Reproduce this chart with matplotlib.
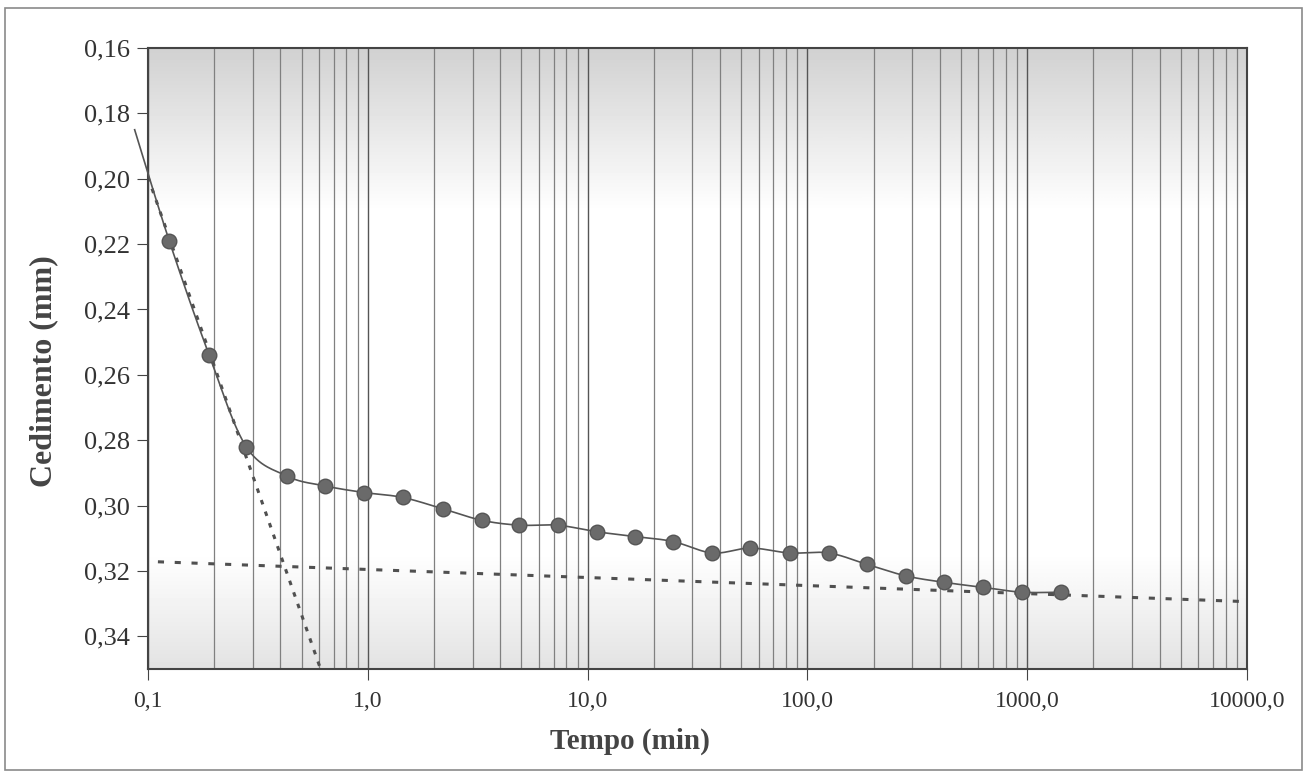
import numpy as np
import matplotlib.pyplot as plt
from matplotlib.ticker import FixedLocator, NullFormatter, FuncFormatter
from matplotlib.patches import Rectangle

# -------------------------------
# Data
# -------------------------------
tempo = [0.125, 0.19, 0.28, 0.43, 0.64, 0.96, 1.44, 2.2, 3.3, 4.9, 7.3, 11,
         16.5, 24.5, 37, 55, 83, 125, 187, 280, 420, 630, 945, 1420]
cedimento = [0.219, 0.254, 0.282, 0.291, 0.294, 0.296, 0.2975, 0.301, 0.3045,
             0.306, 0.306, 0.308, 0.3095, 0.311, 0.3145, 0.313, 0.3145, 0.3145,
             0.318, 0.3215, 0.3235, 0.325, 0.3265, 0.3265]

# start of the hand drawn curve (outside the axes)
curve_start = (0.087, 0.185)

# tangent lines (t, s) end points
tangent_1_t = [0.1, 0.61]
tangent_1_s = [0.1995, 0.35]
tangent_2_t = [0.111, 10000]
tangent_2_s = [0.3172, 0.3294]

x_ticks = [0.1, 1, 10, 100, 1000, 10000]
y_ticks = [0.16, 0.18, 0.20, 0.22, 0.24, 0.26, 0.28, 0.30, 0.32, 0.34]

plt.rcParams['font.family'] = ['Liberation Serif', 'DejaVu Serif']


def smooth(xs, ys, n=30):
    # bezier smoothing like a spreadsheet "smoothed line"
    xs = np.asarray(xs, float)
    ys = np.asarray(ys, float)
    px, py = [], []
    for i in range(len(xs) - 1):
        x0, y0 = xs[max(i - 1, 0)], ys[max(i - 1, 0)]
        x1, y1 = xs[i], ys[i]
        x2, y2 = xs[i + 1], ys[i + 1]
        x3, y3 = xs[min(i + 2, len(xs) - 1)], ys[min(i + 2, len(xs) - 1)]
        c1x, c1y = x1 + (x2 - x0) / 6, y1 + (y2 - y0) / 6
        c2x, c2y = x2 - (x3 - x1) / 6, y2 - (y3 - y1) / 6
        u = np.linspace(0, 1, n)
        b0, b1, b2, b3 = (1 - u) ** 3, 3 * u * (1 - u) ** 2, 3 * u ** 2 * (1 - u), u ** 3
        px.extend(b0 * x1 + b1 * c1x + b2 * c2x + b3 * x2)
        py.extend(b0 * y1 + b1 * c1y + b2 * c2y + b3 * y2)
    return np.array(px), np.array(py)


fig = plt.figure(figsize=(13.07, 7.76), dpi=100)
ax = fig.add_axes([0.1132, 0.1379, 0.8409, 0.8002])

# scanned grey shading at top and bottom of the plot area
yy = np.linspace(0.16, 0.35, 200)
top = np.clip((0.21 - yy) / 0.05, 0, 1) * 0.18
bottom = np.clip((yy - 0.315) / 0.035, 0, 1) * 0.11
shade = (1 - np.maximum(top, bottom))[:, None] * np.ones((1, 2))
ax.imshow(shade, cmap='gray', vmin=0, vmax=1, aspect='auto',
          extent=[0.1, 10000, 0.35, 0.16], zorder=0, interpolation='bilinear')

# curve
lx, ly = smooth(np.log10([curve_start[0]] + tempo), [curve_start[1]] + cedimento)
ax.plot(10 ** lx, ly, color='#555555', lw=1.2, zorder=3, clip_on=False)
ax.scatter(tempo, cedimento, s=110, color='#6a6a6a', edgecolor='#555555', zorder=4)

# tangents
ax.plot(tangent_1_t, tangent_1_s, color='#505050', lw=2.2,
        linestyle=(0, (1.5, 2.5)), zorder=2)
ax.plot(tangent_2_t, tangent_2_s, color='#505050', lw=2.2,
        linestyle=(0, (2, 3.5)), zorder=2)

ax.set_xscale('log')
ax.set_xlim(0.1, 10000)
ax.set_ylim(0.35, 0.16)

ax.xaxis.set_major_locator(FixedLocator(x_ticks))
minors = [m * d for d in [0.1, 1, 10, 100, 1000] for m in range(2, 10)]
ax.xaxis.set_minor_locator(FixedLocator(minors))
ax.xaxis.set_minor_formatter(NullFormatter())
ax.xaxis.set_major_formatter(FuncFormatter(lambda v, p: f"{v:.1f}".replace('.', ',')))
ax.yaxis.set_major_locator(FixedLocator(y_ticks))
ax.yaxis.set_major_formatter(FuncFormatter(lambda v, p: f"{v:.2f}".replace('.', ',')))

ax.grid(True, which='major', axis='x', color='#555555', lw=1.0)
ax.grid(True, which='minor', axis='x', color='#808080', lw=0.9)

ax.tick_params(axis='both', which='major', direction='out', length=8,
               color='#444444', labelcolor='#333333')
ax.tick_params(axis='x', which='major', labelsize=17, pad=8)
ax.tick_params(axis='y', which='major', labelsize=19, pad=5)
ax.tick_params(axis='x', which='minor', length=0)
for s in ax.spines.values():
    s.set_color('#444444')
    s.set_linewidth(1.5)

ax.set_xlabel('Tempo (min)', fontsize=21, fontweight='bold', color='#444444')
ax.set_ylabel('Cedimento (mm)', fontsize=23, fontweight='bold', color='#444444')
ax.xaxis.set_label_coords(0.4386, -0.095)
ax.yaxis.set_label_coords(-0.082, 0.48)

# outer frame of the chart
fig.patches.append(Rectangle((0.004, 0.008), 0.992, 0.982, transform=fig.transFigure,
                             fill=False, edgecolor='#8a8a8a', lw=1.2))

fig.savefig('out.png', dpi=100)
